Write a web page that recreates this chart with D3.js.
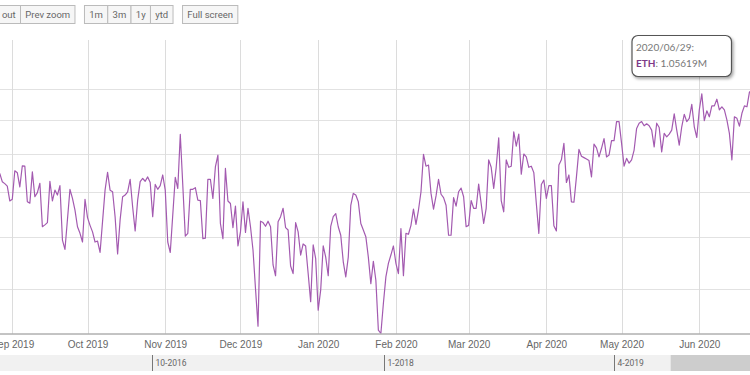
<!DOCTYPE html>
<html>
<head>
<meta charset="utf-8">
<script src="https://cdn.jsdelivr.net/npm/d3@7"></script>
<style>
  body { margin: 0; background: #fff; }
  svg { display: block; font-family: Roboto, "Open Sans", sans-serif; }
</style>
</head>
<body>
<div id="chart"></div>
<script>
// ---- data (daily ETH values, thousands; day offsets from 2019-09-01) ----
const seriesName = "ETH";
const startDate = "2019-09-01";
const dayOffsets = [
  -5, -4, -3, -2, -1, 0, 1, 2, 3, 4, 5, 6, 7, 8, 9, 10, 11, 12, 13, 14, 15, 16, 17, 18, 19, 20, 21, 23, 24, 25,
  26, 27, 28, 29, 30, 31, 32, 33, 34, 35, 37, 38, 39, 40, 41, 42, 43, 44, 45, 46, 47, 48, 49, 50, 51, 52, 53, 54, 55, 56,
  57, 58, 59, 60, 61, 62, 63, 65, 66, 67, 69, 70, 71, 72, 73, 74, 75, 76, 77, 78, 79, 80, 81, 82, 83, 84, 85, 86, 87, 88,
  89, 90, 91, 92, 93, 94, 95, 96, 97, 98, 99, 100, 101, 102, 103, 104, 105, 106, 107, 108, 109, 110, 111, 112, 113, 114, 115, 116, 117, 118,
  119, 120, 121, 122, 123, 124, 125, 126, 127, 128, 129, 130, 131, 132, 133, 134, 135, 136, 137, 138, 139, 140, 141, 142, 143, 144, 145, 146, 147, 148,
  149, 150, 151, 152, 153, 154, 155, 156, 157, 158, 159, 160, 161, 162, 163, 164, 165, 166, 167, 168, 169, 170, 171, 172, 173, 174, 175, 176, 177, 178,
  179, 180, 181, 182, 183, 184, 185, 186, 187, 188, 189, 190, 191, 192, 193, 194, 195, 196, 197, 198, 199, 200, 201, 202, 203, 204, 205, 206, 207, 208,
  209, 210, 211, 212, 213, 214, 215, 216, 217, 218, 219, 220, 221, 222, 223, 224, 225, 226, 227, 228, 229, 230, 231, 232, 233, 234, 235, 236, 237, 238,
  239, 240, 241, 242, 243, 244, 245, 246, 247, 248, 249, 250, 251, 252, 253, 254, 255, 256, 257, 258, 259, 260, 261, 262, 263, 264, 265, 266, 267, 268,
  269, 270, 271, 272, 273, 274, 275, 276, 277, 278, 279, 280, 281, 282, 283, 284, 285, 286, 287, 288, 289, 290, 291, 292, 293, 294, 302
];
const ethK = [
  747, 726, 721, 715, 679, 683, 754, 749, 713, 767, 766, 677, 674, 751, 689, 699, 722, 621, 625, 630, 727, 679, 705, 693, 716, 593, 574, 707, 685, 658,
  621, 607, 589, 683, 641, 624, 610, 589, 591, 568, 705, 750, 705, 701, 643, 565, 636, 689, 693, 701, 732, 665, 612, 681, 726, 734, 727, 738, 724, 643,
  719, 707, 716, 743, 705, 589, 568, 737, 709, 855, 601, 607, 707, 707, 711, 681, 680, 596, 597, 732, 732, 685, 764, 796, 628, 596, 760, 679, 673, 619,
  667, 581, 610, 677, 609, 662, 621, 573, 501, 440, 633, 630, 622, 633, 621, 544, 524, 632, 643, 662, 619, 614, 542, 528, 630, 610, 563, 585, 581, 528,
  479, 583, 556, 465, 499, 581, 559, 524, 622, 643, 650, 621, 603, 550, 522, 559, 669, 697, 693, 677, 628, 614, 600, 559, 510, 551, 516, 434, 429, 476,
  522, 547, 563, 581, 547, 528, 617, 524, 607, 605, 624, 660, 626, 658, 701, 798, 766, 769, 697, 660, 691, 732, 695, 687, 669, 603, 603, 687, 667, 701,
  710, 689, 621, 624, 680, 662, 662, 720, 673, 628, 662, 783, 763, 709, 763, 845, 680, 654, 783, 763, 766, 863, 821, 856, 745, 799, 791, 763, 766, 749,
  673, 607, 719, 730, 685, 716, 716, 623, 612, 769, 783, 829, 724, 743, 677, 676, 738, 812, 793, 789, 785, 781, 738, 827, 816, 791, 815, 843, 791, 796,
  837, 837, 894, 894, 829, 766, 787, 774, 783, 810, 873, 889, 894, 881, 887, 881, 868, 819, 889, 876, 805, 858, 848, 856, 868, 918, 868, 824, 878, 917,
  894, 904, 949, 878, 846, 931, 984, 897, 928, 909, 944, 944, 966, 931, 941, 931, 899, 858, 783, 909, 904, 880, 920, 944, 941, 990, 1056.19
];
const monthTicks = ["2019-09-01", "2019-10-01", "2019-11-01", "2019-12-01", "2020-01-01",
  "2020-02-01", "2020-03-01", "2020-04-01", "2020-05-01", "2020-06-01"];
const yGridValues = [500, 600, 700, 800, 900, 1000];
const navTicks = ["2016-10-01", "2018-01-01", "2019-04-01"];
const navWindowStart = "2019-07-22";
const buttonGroups = [["Zoom out", "Prev zoom"], ["1m", "3m", "1y", "ytd"], ["Full screen"]];

// ---- setup ----
const width = 750, height = 375;
const plotTop = 40, plotBottom = 333.5;
const parse = d3.timeParse("%Y-%m-%d");
const t0 = parse(startDate);
const data = dayOffsets.map((d, i) => ({ date: d3.timeDay.offset(t0, d), value: ethK[i] }));

const svg = d3.select("#chart").append("svg")
  .attr("width", width)
  .attr("height", height);

const x = d3.scaleTime()
  .domain([parse(monthTicks[0]), parse(monthTicks[monthTicks.length - 1])])
  .range([12.3, 699.3]);

const y = d3.scaleLog()
  .domain([429, 1186])
  .range([plotBottom, plotTop]);

// grid
svg.append("g")
  .selectAll("line")
  .data(yGridValues)
  .join("line")
  .attr("x1", 0).attr("x2", width)
  .attr("y1", d => Math.round(y(d)) + 0.5)
  .attr("y2", d => Math.round(y(d)) + 0.5)
  .attr("stroke", "#e2e2e2");

svg.append("g")
  .selectAll("line")
  .data(monthTicks.map(parse))
  .join("line")
  .attr("x1", d => Math.round(x(d)) + 0.5)
  .attr("x2", d => Math.round(x(d)) + 0.5)
  .attr("y1", plotTop).attr("y2", plotBottom)
  .attr("stroke", "#dcdcdc");

// line
svg.append("clipPath").attr("id", "clip")
  .append("rect").attr("x", 0).attr("y", plotTop - 2).attr("width", width).attr("height", plotBottom - plotTop + 2);

svg.append("path")
  .datum(data)
  .attr("clip-path", "url(#clip)")
  .attr("fill", "none")
  .attr("stroke", "#a35ab0")
  .attr("stroke-width", 1.2)
  .attr("stroke-linejoin", "round")
  .attr("d", d3.line().x(d => x(d.date)).y(d => y(d.value)));

// x axis
const xAxis = svg.append("g")
  .attr("transform", `translate(0,${plotBottom})`)
  .call(d3.axisBottom(x)
    .tickValues(monthTicks.map(parse))
    .tickFormat(d3.timeFormat("%b %Y"))
    .tickSize(0)
    .tickPadding(7));
xAxis.select(".domain").remove();
xAxis.selectAll("text").attr("fill", "#666").attr("font-size", 10);

svg.append("line")
  .attr("x1", 0).attr("x2", width)
  .attr("y1", plotBottom + 0.5).attr("y2", plotBottom + 0.5)
  .attr("stroke", "#888");

// range navigator
const navX = d3.scaleTime()
  .domain([parse(navTicks[0]), parse(navTicks[navTicks.length - 1])])
  .range([152.3, 614]);
const nav = svg.append("g");
nav.append("rect")
  .attr("x", 0).attr("y", 355).attr("width", width).attr("height", 16)
  .attr("fill", "#f1f1f1");
nav.append("rect")
  .attr("x", navX(parse(navWindowStart))).attr("y", 355)
  .attr("width", width - navX(parse(navWindowStart))).attr("height", 16)
  .attr("fill", "#cdcdcd");
const navTick = nav.selectAll("g.navtick")
  .data(navTicks.map(parse))
  .join("g")
  .attr("class", "navtick")
  .attr("transform", d => `translate(${Math.round(navX(d)) + 0.5},0)`);
navTick.append("line")
  .attr("y1", 355).attr("y2", 371)
  .attr("stroke", "#777");
navTick.append("text")
  .attr("x", 3).attr("y", 366)
  .attr("font-size", 8.5)
  .attr("fill", "#666")
  .text(d3.timeFormat("%-m-%Y"));

// buttons
const btnH = 18, btnY = 5.5, groupGap = 9.5, pad = 4.8, btnFont = 9.5;
let bx = null;
buttonGroups.forEach((group, gi) => {
  const g = svg.append("g");
  const widths = group.map(label => {
    const t = g.append("text").attr("font-size", btnFont).text(label);
    const w = t.node().getComputedTextLength();
    t.remove();
    return w + pad * 2;
  });
  if (gi === 0) bx = 20.5 - widths[0];
  group.forEach((label, i) => {
    g.append("rect")
      .attr("x", bx).attr("y", btnY)
      .attr("width", widths[i]).attr("height", btnH)
      .attr("fill", "#f6f6f6")
      .attr("stroke", "#bbb");
    g.append("text")
      .attr("x", bx + widths[i] / 2).attr("y", btnY + 12.5)
      .attr("text-anchor", "middle")
      .attr("font-size", btnFont)
      .attr("fill", "#666")
      .text(label);
    bx += widths[i];
  });
  bx += groupGap;
});

// tooltip (last point)
const last = data[data.length - 1];
const defs = svg.append("defs");
const f = defs.append("filter").attr("id", "shadow").attr("x", "-20%").attr("y", "-20%").attr("width", "150%").attr("height", "150%");
f.append("feDropShadow").attr("dx", 1.5).attr("dy", 2).attr("stdDeviation", 1.5).attr("flood-color", "#000").attr("flood-opacity", 0.35);

const tip = svg.append("g").attr("transform", "translate(632,35.5)")
  .style("font-family", "Lato, sans-serif");
tip.append("rect")
  .attr("width", 99.5).attr("height", 41)
  .attr("rx", 6)
  .attr("fill", "#fff")
  .attr("stroke", "#555")
  .attr("stroke-width", 1.2)
  .attr("filter", "url(#shadow)");
tip.append("text")
  .attr("x", 4).attr("y", 15)
  .attr("font-size", 10)
  .attr("fill", "#777")
  .text(d3.timeFormat("%Y/%m/%d")(last.date) + ":");
const t2 = tip.append("text")
  .attr("x", 4).attr("y", 31.5)
  .attr("font-size", 10)
  .attr("fill", "#777");
t2.append("tspan").attr("font-weight", "bold").attr("fill", "#7d3a87").text(seriesName);
t2.append("tspan").text(": " + (last.value / 1000).toFixed(5) + "M");
</script>
</body>
</html>
